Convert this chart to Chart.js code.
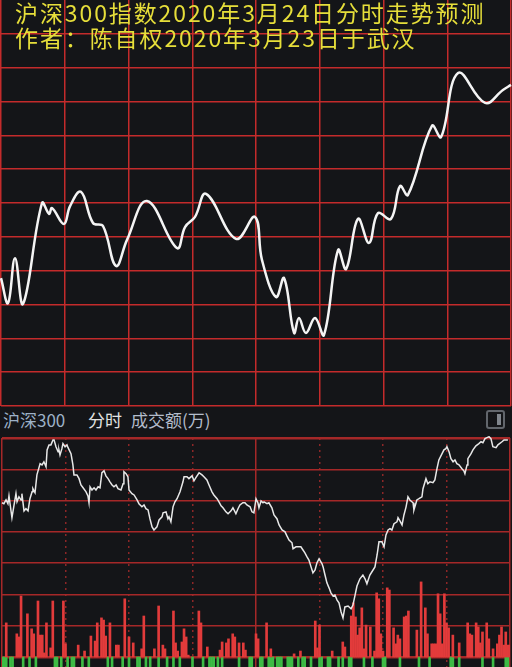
<!DOCTYPE html>
<html>
<head>
<meta charset="utf-8">
<script src="https://cdn.jsdelivr.net/npm/chart.js@4.4.1/dist/chart.umd.min.js"></script>
<style>
    body { margin: 0; background: #141518; width: 512px; height: 667px; overflow: hidden; position: relative; font-family: "Noto Sans CJK SC", sans-serif; }
    canvas { position: absolute; left: 0; }
    #topChart { top: 0; }
    #lowChart { top: 436px; }
    .title { position: absolute; left: 15px; color: #e6de3a; font-size: 23px; line-height: 25px; letter-spacing: 1.9px; white-space: nowrap; }
    .hdr { position: absolute; top: 410px; font-size: 17px; line-height: 19px; white-space: nowrap; }
    .icon { position: absolute; left: 486px; top: 410px; width: 15px; height: 15px; border: 2px solid #62666c; border-radius: 3px; }
    .icon i { position: absolute; right: 2px; top: 2px; width: 4px; height: 11px; background: #80858c; }
</style>
</head>
<body>
<canvas id="topChart" width="512" height="407"></canvas>
<div class="title" style="top:0px">沪深300指数2020年3月24日分时走势预测</div>
<div class="title" style="top:25px">作者：陈自权2020年3月23日于武汉</div>

<div class="hdr" style="left:3px;color:#9db1c7">沪深300</div>
<div class="hdr" style="left:88px;color:#e2e2e2">分时</div>
<div class="hdr" style="left:131px;color:#b3bccb">成交额(万)</div>
<div class="icon"><i></i></div>

<canvas id="lowChart" width="512" height="231"></canvas>

<script>
// ---- prediction curve (minutes after open, grid units) ----
const topMinutes = [0, 3.3, 6.6, 10.4, 19.3, 22.6, 24.0, 29.6, 32.5, 37.6, 43.3, 48.0, 54.1, 59.3, 68.7,
    82.8, 86.6, 91.3, 96.5, 110.6, 119.5, 122.8, 129.4, 133.2, 137.9, 140.2, 143.5, 147.8, 152.0,
    158.6, 162.4, 168.0, 173.2, 177.4, 183.5, 187.8, 191.5, 202.8, 207.1, 215.1, 227.8, 236.2, 240];
const topValues = [3.78, 3.04, 4.37, 3.02, 6.00, 5.68, 5.85, 5.38, 5.91, 6.33, 5.41, 5.32, 4.14, 4.91, 6.06,
    4.67, 5.29, 5.59, 6.27, 4.94, 5.59, 4.32, 3.22, 3.78, 2.16, 2.60, 2.16, 2.60, 2.10,
    4.61, 4.05, 5.53, 4.82, 5.70, 5.53, 6.50, 6.24, 8.28, 7.95, 9.84, 8.96, 9.34, 9.49];

// ---- actual 沪深300 intraday line ----
const lowMinutes = [
    0, 0.9, 1.9, 2.8, 3.3, 4.7, 5.7, 6.6, 7.1, 8.0,
    9.0, 9.4, 10.4, 11.3, 12.3, 13.2, 14.2, 14.6, 15.6, 16.5,
    18.0, 18.9, 19.8, 20.8, 21.3, 22.2, 23.1, 24.1, 24.6, 25.5,
    26.5, 26.9, 27.4, 28.3, 28.8, 29.8, 30.7, 31.2, 32.6, 33.5,
    34.0, 35.4, 36.4, 37.3, 38.3, 39.7, 40.6, 41.1, 41.6, 42.5,
    43.5, 44.4, 45.4, 46.3, 47.2, 48.2, 49.1, 50.1, 51.0, 52.0,
    52.9, 53.9, 54.8, 56.2, 57.2, 57.6, 58.6, 59.5, 60.0, 61.4,
    62.4, 63.8, 64.7, 66.1, 67.1, 68.0, 69.0, 69.9, 70.9, 71.8,
    73.2, 74.2, 75.6, 76.1, 77.5, 78.4, 78.9, 79.8, 80.8, 81.7,
    82.7, 84.1, 85.5, 86.0, 87.4, 88.3, 89.8, 90.7, 91.6, 93.1,
    94.5, 95.4, 96.8, 97.8, 99.2, 100.1, 101.6, 102.5, 103.5, 104.4,
    105.8, 106.8, 108.2, 109.1, 110.5, 111.5, 112.4, 113.8, 114.8, 115.7,
    117.2, 118.1, 119.0, 120.0, 120.9, 121.4, 122.4, 123.3, 123.8, 125.2,
    126.1, 127.5, 128.5, 129.9, 130.9, 132.3, 133.7, 134.6, 135.6, 137.0,
    137.5, 138.9, 139.8, 141.2, 142.2, 143.1, 144.1, 145.0, 146.0, 146.9,
    147.9, 148.8, 149.8, 151.2, 151.7, 152.6, 153.5, 154.5, 155.4, 156.4,
    157.3, 158.3, 159.2, 160.2, 161.1, 162.0, 163.5, 164.9, 165.8, 166.8,
    167.7, 169.1, 170.5, 171.5, 172.4, 173.8, 175.3, 176.2, 177.2, 178.1,
    179.5, 180.5, 181.4, 182.4, 183.3, 184.2, 185.2, 186.6, 187.1, 188.0,
    189.0, 189.9, 190.9, 191.8, 192.7, 194.2, 194.6, 196.0, 197.0, 198.4,
    198.9, 200.3, 201.2, 202.2, 203.6, 204.5, 205.5, 206.4, 207.9, 208.8,
    209.7, 210.2, 211.2, 212.1, 213.1, 214.0, 214.9, 215.9, 217.3, 218.2,
    218.7, 219.7, 220.1, 221.6, 222.5, 223.9, 225.3, 226.3, 227.2, 228.2,
    229.1, 230.1, 231.0, 231.9, 233.4, 234.3, 236.2, 237.2, 239.0];
const lowPrices = [
    4.93, 4.90, 5.02, 4.90, 5.15, 4.45, 4.86, 5.22, 4.96, 5.12,
    5.02, 5.22, 4.67, 4.74, 4.67, 5.06, 5.28, 5.38, 5.25, 5.82,
    6.18, 6.14, 6.24, 6.08, 6.62, 6.78, 6.78, 6.94, 6.94, 6.72,
    6.56, 6.62, 6.46, 6.66, 6.82, 6.72, 6.78, 6.69, 6.50, 6.14,
    5.82, 5.82, 5.70, 5.50, 5.41, 5.28, 5.15, 4.93, 5.44, 5.34,
    5.41, 5.34, 5.44, 5.41, 5.89, 5.95, 5.79, 5.70, 5.60, 5.50,
    5.44, 5.50, 5.38, 5.34, 5.54, 5.92, 5.86, 5.76, 5.34, 5.22,
    5.18, 5.02, 4.90, 4.80, 4.86, 4.74, 4.70, 4.42, 4.16, 4.06,
    4.16, 4.38, 4.48, 4.61, 4.64, 4.42, 4.48, 4.32, 4.80, 4.96,
    5.06, 5.28, 5.60, 5.76, 5.76, 5.70, 5.79, 5.63, 5.73, 5.89,
    5.82, 5.76, 5.66, 5.50, 5.28, 5.18, 5.06, 4.96, 4.83, 4.77,
    4.64, 4.58, 4.67, 4.77, 4.58, 4.74, 4.86, 4.93, 4.93, 4.86,
    4.80, 4.64, 4.61, 5.06, 4.93, 4.77, 4.99, 4.93, 4.96, 4.90,
    4.93, 4.77, 4.54, 4.42, 4.22, 4.06, 4.00, 3.87, 3.74, 3.65,
    3.46, 3.52, 3.52, 3.52, 3.42, 3.33, 3.20, 3.10, 2.88, 2.69,
    2.78, 3.01, 3.14, 2.98, 2.88, 2.62, 2.37, 2.21, 2.05, 1.95,
    1.98, 1.82, 1.73, 1.44, 1.25, 1.60, 1.63, 1.54, 1.66, 1.98,
    2.27, 2.50, 2.62, 2.50, 2.34, 2.62, 2.78, 2.88, 3.26, 3.68,
    3.68, 3.52, 3.90, 4.06, 4.10, 4.06, 4.26, 4.32, 4.45, 4.35,
    4.22, 4.54, 4.80, 5.12, 5.02, 4.93, 4.70, 5.02, 5.06, 5.12,
    5.38, 5.70, 5.54, 5.60, 5.57, 5.66, 6.02, 6.30, 6.50, 6.62,
    6.66, 6.72, 6.56, 6.34, 6.24, 6.30, 6.18, 6.14, 6.02, 5.95,
    5.86, 6.14, 6.34, 6.50, 6.62, 6.75, 6.82, 6.88, 6.85, 6.98,
    7.01, 7.04, 6.98, 6.72, 6.69, 6.78, 6.88, 6.94, 6.94];

// ---- volume bars (red = up minutes, green = down minutes) ----
const redMinutes = [2, 7, 8, 9, 12, 14, 15, 17, 18, 19, 20, 21, 23, 24, 29, 30, 36, 39, 42, 44, 45, 47, 48, 49, 51,
    54, 55, 58, 60, 62, 66, 67, 72, 74, 76, 77, 81, 82, 83, 85, 86, 87, 88, 93, 94, 97, 103, 104, 106, 107,
    109, 110, 112, 114, 115, 120, 121, 125, 127, 138, 141, 148, 149, 150, 156, 161, 162, 165, 166, 167, 168,
    169, 170, 171, 172, 174, 176, 177, 178, 179, 180, 182, 183, 185, 186, 187, 188, 190, 191, 192, 196, 198,
    200, 201, 203, 204, 205, 206, 207, 208, 209, 210, 211, 213, 216, 220, 221, 222, 224, 225, 226, 227, 229,
    230, 232, 234, 235, 236, 237, 238, 239, 240];
const redVolumes = [109, 74, 64, 195, 138, 90, 74, 179, 70, 70, 13, 109, 29, 179, 179, 42, 38, 19, 67, 51, 109, 125, 118, 67, 109,
    38, 38, 186, 64, 45, 26, 131, 26, 163, 38, 26, 147, 45, 19, 48, 90, 64, 6, 147, 109, 32, 22, 48, 45, 58,
    74, 64, 45, 45, 22, 74, 58, 109, 26, 10, 19, 115, 29, 102, 19, 48, 32, 131, 173, 128, 70,
    93, 157, 26, 102, 96, 19, 205, 186, 74, 19, 221, 214, 93, 42, 70, 58, 128, 131, 147, 86, 240,
    157, 74, 42, 42, 42, 202, 138, 42, 202, 109, 93, 70, 45, 109, 74, 70, 109, 96, 45, 80, 109,
    58, 26, 42, 70, 96, 38, 80, 38, 38];
const greenMinutes = [0, 1, 2, 4, 5, 10, 13, 16, 25, 26, 28, 31, 33, 34, 38, 41, 50, 52, 57, 60, 64, 65, 68, 70, 74,
    78, 81, 84, 90, 95, 98, 99, 100, 102, 104, 112, 117, 118, 122, 123, 126, 127, 128, 130, 131, 132, 135,
    136, 137, 140, 142, 143, 146, 150, 151, 154, 155, 159, 161, 164, 165, 171, 175, 180, 181, 188, 197, 202,
    212, 213, 216, 227, 232, 238, 239];
const greenVolumes = greenMinutes.map(() => -40); // these bars run off the bottom of the screenshot

const RED_GRID = '#c42b2b';
const DARK_GRID = '#a52828';

function pairs(xs, ys) {
    return xs.map((x, i) => ({ x: x, y: ys[i] }));
}

function fixedTicks(values) {
    return axis => { axis.ticks = values.map(v => ({ value: v })); };
}

function renderTopChart() {
    new Chart(document.getElementById('topChart'), {
        type: 'line',
        data: {
            datasets: [{
                data: pairs(topMinutes, topValues),
                borderColor: '#f4f4f4',
                borderWidth: 2.5,
                pointRadius: 0,
                tension: 0.4,
                clip: false
            }]
        },
        options: {
            responsive: false,
            animation: false,
            devicePixelRatio: 1,
            layout: { padding: { left: 1, right: 1, top: 0, bottom: 1 } },
            plugins: { legend: { display: false }, tooltip: { enabled: false } },
            scales: {
                x: {
                    type: 'linear', min: 0, max: 240,
                    ticks: { display: false, stepSize: 30 },
                    grid: { color: RED_GRID, lineWidth: 1.5, drawTicks: false },
                    border: { display: false }
                },
                y: {
                    min: 0, max: 12,
                    ticks: { display: false, stepSize: 1 },
                    grid: { color: c => c.tick && c.tick.value === 12 ? 'rgba(0,0,0,0)' : RED_GRID, lineWidth: 1.5, drawTicks: false },
                    border: { display: false }
                }
            }
        }
    });
}

function renderLowChart() {
    new Chart(document.getElementById('lowChart'), {
        type: 'bar',
        data: {
            datasets: [{
                type: 'line',
                data: pairs(lowMinutes, lowPrices),
                yAxisID: 'y',
                borderColor: '#e8e8e8',
                borderWidth: 1.5,
                pointRadius: 0,
                tension: 0,
                clip: false,
                order: 0
            }, {
                data: pairs(redMinutes, redVolumes),
                yAxisID: 'yv',
                backgroundColor: '#e23b3b',
                barThickness: 2,
                grouped: false,
                order: 1
            }, {
                data: pairs(greenMinutes, greenVolumes),
                yAxisID: 'yv',
                backgroundColor: '#3dbb45',
                barThickness: 2,
                grouped: false,
                order: 1
            }]
        },
        options: {
            responsive: false,
            animation: false,
            devicePixelRatio: 1,
            layout: { padding: { left: 2, right: 2, top: 2, bottom: 0 } },
            plugins: { legend: { display: false }, tooltip: { enabled: false } },
            scales: {
                x: {
                    type: 'linear', min: 0, max: 240, offset: false,
                    afterBuildTicks: fixedTicks([0, 120, 240]),
                    ticks: { display: false },
                    grid: { color: DARK_GRID, lineWidth: 1.5, drawTicks: false, offset: false },
                    border: { display: false }
                },
                x2: {
                    type: 'linear', min: 0, max: 240, offset: false, position: 'bottom',
                    afterBuildTicks: fixedTicks([30, 60, 90, 150, 180, 210]),
                    ticks: { display: false },
                    grid: { color: '#8c2727', lineWidth: 1.5, drawTicks: false, offset: false },
                    border: { display: false, dash: [2, 4] }
                },
                y: {
                    min: -0.32, max: 7,
                    afterBuildTicks: fixedTicks([0, 1, 2, 3, 4, 5, 6, 7]),
                    ticks: { display: false },
                    grid: { color: DARK_GRID, lineWidth: c => (c.tick && (c.tick.value === 0 || c.tick.value === 7)) ? 2.5 : 1.5, drawTicks: false },
                    border: { display: false }
                },
                yv: {
                    display: false, min: -32, max: 700
                }
            }
        }
    });
}

window.addEventListener('DOMContentLoaded', () => {
    renderTopChart();
    renderLowChart();
});
</script>
</body>
</html>
